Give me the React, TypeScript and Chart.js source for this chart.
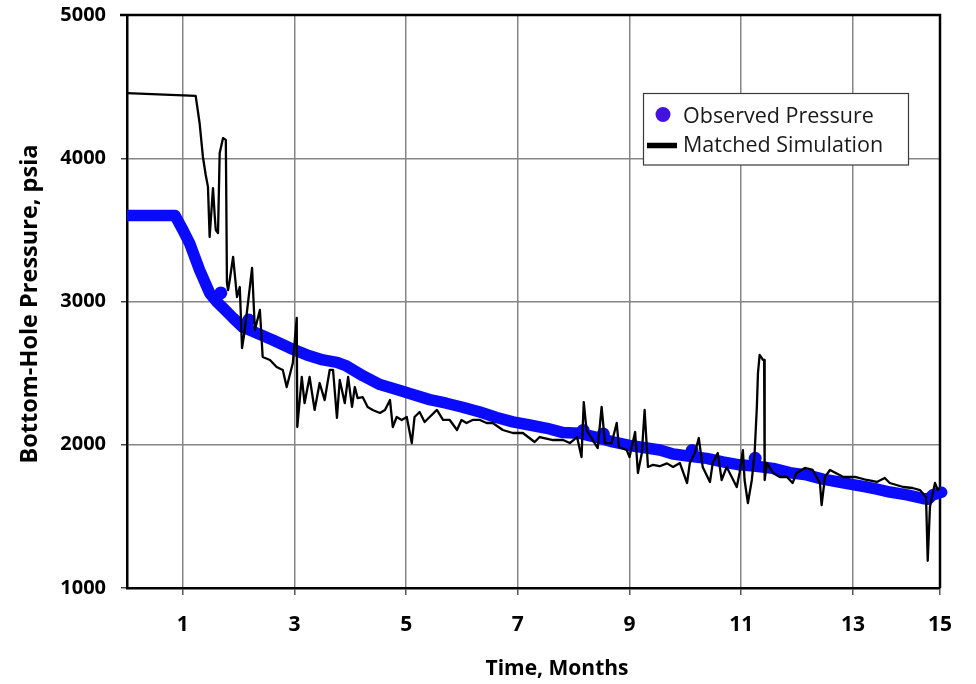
import { useEffect, useRef } from 'react';
import { Chart, registerables } from 'chart.js';

Chart.register(...registerables);

// Matched simulation (months, psia)
const simTime = [
  0, 1.23, 1.3, 1.36, 1.41, 1.45, 1.48, 1.54, 1.57, 1.59, 1.63, 1.66, 1.72, 1.77, 1.79, 1.81,
  1.84, 1.9, 1.97, 2.02, 2.06, 2.11, 2.24, 2.29, 2.38, 2.43, 2.56, 2.68, 2.79, 2.86, 2.97, 3.04,
  3.05, 3.13, 3.18, 3.27, 3.36, 3.45, 3.54, 3.63, 3.69, 3.76, 3.81, 3.9, 3.96, 4.03, 4.08, 4.13,
  4.22, 4.31, 4.4, 4.53, 4.62, 4.71, 4.76, 4.83, 4.92, 5.01, 5.1, 5.15, 5.24, 5.33, 5.42, 5.55,
  5.66, 5.78, 5.91, 5.99, 6.08, 6.19, 6.32, 6.44, 6.55, 6.73, 6.91, 7.09, 7.3, 7.39, 7.63, 7.81,
  7.93, 8.06, 8.14, 8.18, 8.23, 8.34, 8.43, 8.5, 8.56, 8.68, 8.77, 8.81, 8.95, 9.0, 9.1, 9.15,
  9.22, 9.27, 9.33, 9.42, 9.54, 9.67, 9.78, 9.9, 10.03, 10.08, 10.17, 10.24, 10.31, 10.44, 10.49,
  10.58, 10.65, 10.74, 10.83, 10.92, 10.97, 11.03, 11.06, 11.12, 11.19, 11.24, 11.28, 11.3, 11.33,
  11.39, 11.41, 11.42, 11.46, 11.57, 11.69, 11.82, 11.92, 11.99, 12.14, 12.28, 12.41, 12.44, 12.5,
  12.59, 12.83, 13.04, 13.25, 13.43, 13.57, 13.66, 13.9, 14.07, 14.2, 14.31, 14.34, 14.38, 14.47,
  14.52, 14.56,
];
const simPressure = [
  4455, 4435, 4246, 4009, 3883, 3800, 3450, 3792, 3604, 3499, 3478, 4037, 4141, 4128, 3129, 3080,
  3150, 3311, 3031, 3101, 2675, 2801, 3234, 2801, 2941, 2613, 2592, 2543, 2522, 2403, 2571, 2885,
  2124, 2473, 2291, 2473, 2243, 2431, 2312, 2522, 2522, 2187, 2452, 2291, 2473, 2264, 2403, 2326,
  2333, 2264, 2243, 2222, 2243, 2312, 2124, 2194, 2173, 2194, 2012, 2194, 2229, 2159, 2194, 2243,
  2173, 2173, 2103, 2173, 2152, 2173, 2173, 2152, 2152, 2103, 2082, 2082, 2019, 2054, 2033, 2033,
  2012, 2054, 1914, 2298, 2103, 2033, 1977, 2264, 2012, 2012, 2152, 1984, 1963, 1914, 2089, 1803,
  1942, 2243, 1845, 1860, 1850, 1870, 1845, 1873, 1733, 1873, 1942, 2047, 1845, 1740, 1873,
  1942, 1754, 1845, 1775, 1705, 1803, 1963, 1754, 1593, 1754, 1942, 2264, 2501, 2627,
  2592, 2592, 1754, 1873, 1803, 1775, 1775, 1733, 1803, 1838, 1824, 1733, 1579, 1775,
  1824, 1775, 1775, 1754, 1740, 1768, 1733, 1705, 1698, 1684, 1635, 1190, 1565, 1733,
  1684, 1698,
];

// Observed pressure trend (months, psia)
const obsTime = [
  0, 0.86, 1.0, 1.12, 1.3, 1.48, 1.61, 1.72, 1.9, 2.07, 2.32, 2.61, 2.92, 3.22, 3.51, 3.76, 3.93,
  4.23, 4.53, 4.83, 5.12, 5.42, 5.72, 6.01, 6.32, 6.62, 6.91, 7.21, 7.52, 7.81, 8.11, 8.41, 8.7,
  9.0, 9.31, 9.54, 9.78, 10.08, 10.38, 10.67, 10.97, 11.27, 11.57, 11.87, 12.17, 12.46, 12.75,
  13.0, 13.25, 13.43, 13.66, 13.97, 14.25, 14.35, 14.43, 14.59,
];
const obsPressure = [
  3600, 3600, 3500, 3408, 3220, 3059, 2997, 2955, 2885, 2822, 2780, 2731, 2675, 2627, 2592, 2575, 2550,
  2480, 2420, 2385, 2350, 2315, 2290, 2262, 2228, 2190, 2160, 2138, 2115, 2085, 2080, 2052, 2020,
  1995, 1977, 1963, 1935, 1920, 1905, 1880, 1860, 1850, 1835, 1805, 1790, 1760, 1740,
  1722, 1705, 1690, 1670, 1650, 1625, 1620, 1650, 1668,
];
// Isolated observed readings sitting just above the trend
const obsSpikeTime = [1.68, 2.18, 8.17, 8.53, 10.12, 11.25];
const obsSpikePressure = [3060, 2870, 2100, 2075, 1960, 1905];

const X_MAX = 14.56;
const xTickValues = [1, 3, 5, 7, 9, 11, 13, X_MAX];
const xTickLabels = ['1', '3', '5', '7', '9', '11', '13', '15'];
const yMin = 1000;
const yMax = 5000;
const yStep = 1000;

const seriesNames = ['Observed Pressure', 'Matched Simulation'];
const xTitle = 'Time, Months';
const yTitle = 'Bottom-Hole Pressure, psia';

const FONT = '"Open Sans", "DejaVu Sans", sans-serif';
const BLUE = '#0a0aff';

const zip = (xs: number[], ys: number[]) => xs.map((x, i) => ({ x, y: ys[i] }));

const framePlugin = {
  id: 'frame',
  beforeDatasetsDraw(chart: any) {
    const { ctx, chartArea } = chart;
    ctx.save();
    ctx.strokeStyle = '#000';
    ctx.lineWidth = 2.5;
    ctx.beginPath();
    ctx.moveTo(chartArea.left - 7, chartArea.top);
    ctx.lineTo(chartArea.right, chartArea.top);
    ctx.lineTo(chartArea.right, chartArea.bottom);
    ctx.stroke();
    ctx.restore();
  },
};

const annotationPlugin = {
  id: 'annotations',
  afterDraw(chart: any) {
    const { ctx } = chart;
    ctx.save();
    // axis titles
    ctx.fillStyle = '#000';
    ctx.font = `bold 21px ${FONT}`;
    ctx.textAlign = 'center';
    ctx.textBaseline = 'alphabetic';
    ctx.fillText(xTitle, 557, 675);
    ctx.save();
    ctx.translate(37, 304);
    ctx.rotate(-Math.PI / 2);
    ctx.font = `bold 23.5px ${FONT}`;
    ctx.fillText(yTitle, 0, 0);
    ctx.restore();

    // legend
    const bx = 643.5, by = 93.5, bw = 265, bh = 71.5;
    ctx.fillStyle = '#fff';
    ctx.fillRect(bx, by, bw, bh);
    ctx.strokeStyle = '#3a3a3a';
    ctx.lineWidth = 1.2;
    ctx.strokeRect(bx, by, bw, bh);

    ctx.fillStyle = '#4412dd';
    ctx.beginPath();
    ctx.arc(663, 114.5, 7.5, 0, Math.PI * 2);
    ctx.fill();

    ctx.strokeStyle = '#000';
    ctx.lineWidth = 5.5;
    ctx.beginPath();
    ctx.moveTo(647, 145.5);
    ctx.lineTo(677, 145.5);
    ctx.stroke();

    ctx.fillStyle = '#1a1a1a';
    ctx.font = `21.5px ${FONT}`;
    ctx.textAlign = 'left';
    ctx.fillText(seriesNames[0], 683, 122.5);
    ctx.fillText(seriesNames[1], 683, 152);
    ctx.restore();
  },
};

export default function App() {
  const canvasRef = useRef<HTMLCanvasElement>(null);

  useEffect(() => {
    const canvas = canvasRef.current;
    if (!canvas) return;
    const chart = new Chart(canvas, {
      type: 'scatter',
      data: {
        datasets: [
          {
            label: seriesNames[1],
            data: zip(simTime, simPressure),
            showLine: true,
            borderColor: '#000',
            backgroundColor: '#000',
            borderWidth: 2.3,
            borderJoinStyle: 'round',
            pointRadius: 0,
            order: 0,
            clip: 0,
          },
          {
            label: seriesNames[0],
            data: zip(obsTime, obsPressure),
            showLine: true,
            borderColor: BLUE,
            backgroundColor: BLUE,
            borderWidth: 11.5,
            borderCapStyle: 'round',
            borderJoinStyle: 'round',
            pointRadius: 0,
            order: 1,
            clip: { left: 0, top: 0, right: 10, bottom: 0 },
          },
          {
            label: seriesNames[0],
            data: zip(obsSpikeTime, obsSpikePressure),
            showLine: false,
            pointRadius: 6.5,
            pointBorderWidth: 0,
            pointBorderColor: BLUE,
            pointBackgroundColor: BLUE,
            backgroundColor: BLUE,
            borderColor: BLUE,
            order: 1,
          },
        ],
      } as any,
      options: {
        animation: false,
        responsive: true,
        maintainAspectRatio: false,
        events: [],
        layout: { padding: { top: 15, right: 36, left: 0, bottom: 0 } },
        plugins: {
          legend: { display: false },
          tooltip: { enabled: false },
        },
        scales: {
          x: {
            type: 'linear',
            min: 0,
            max: X_MAX,
            afterBuildTicks: (scale: any) => {
              scale.ticks = xTickValues.map((value) => ({ value }));
            },
            afterFit: (scale: any) => {
              scale.height = 96;
              scale.paddingLeft = 0;
              scale.paddingRight = 0;
            },
            ticks: {
              color: '#000',
              font: { family: FONT, size: 21, weight: 'bold' },
              padding: 17,
              maxRotation: 0,
              autoSkip: false,
              callback: (value: any) => {
                const i = xTickValues.findIndex((v) => Math.abs(v - Number(value)) < 1e-6);
                return i >= 0 ? xTickLabels[i] : '';
              },
            },
            grid: {
              color: '#858585',
              lineWidth: 1.5,
              tickLength: 7,
              tickColor: '#555',
            },
            border: { color: '#000', width: 2.5 },
          },
          y: {
            type: 'linear',
            min: yMin,
            max: yMax,
            afterFit: (scale: any) => {
              scale.width = 127;
              scale.paddingTop = 0;
              scale.paddingBottom = 0;
            },
            ticks: {
              stepSize: yStep,
              color: '#000',
              font: { family: FONT, size: 20, weight: 'bold' },
              padding: 15,
              callback: (value: any) => String(value),
            },
            grid: {
              color: '#858585',
              lineWidth: 1.5,
              tickLength: 6,
              tickColor: '#444',
            },
            border: { color: '#000', width: 2.5 },
          },
        },
      } as any,
      plugins: [framePlugin, annotationPlugin],
    });
    return () => chart.destroy();
  }, []);

  return (
    <div style={{ position: 'fixed', left: 0, top: 0, width: 976, height: 684, background: '#fff' }}>
      <canvas ref={canvasRef} />
    </div>
  );
}
